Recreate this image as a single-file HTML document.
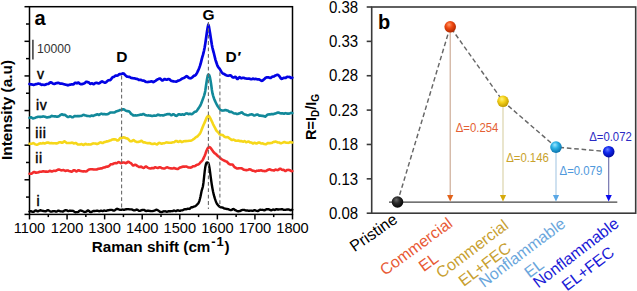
<!DOCTYPE html>
<html><head><meta charset="utf-8"><style>
html,body{margin:0;padding:0;background:#fff;}
body{width:637px;height:291px;overflow:hidden;}
svg{display:block;font-family:"Liberation Sans",sans-serif;}
</style></head><body>
<svg width="637" height="291" viewBox="0 0 637 291">
<defs><radialGradient id="gpr" cx="0.42" cy="0.38" r="0.62" fx="0.4" fy="0.3"><stop offset="0" stop-color="#6a6a6a"/><stop offset="0.45" stop-color="#2a2a2a"/><stop offset="1" stop-color="#050505"/></radialGradient><radialGradient id="gce" cx="0.42" cy="0.38" r="0.62" fx="0.4" fy="0.3"><stop offset="0" stop-color="#ff9a6a"/><stop offset="0.45" stop-color="#f04a12"/><stop offset="1" stop-color="#b02800"/></radialGradient><radialGradient id="gcf" cx="0.42" cy="0.38" r="0.62" fx="0.4" fy="0.3"><stop offset="0" stop-color="#fff27a"/><stop offset="0.45" stop-color="#f5d21c"/><stop offset="1" stop-color="#c09a00"/></radialGradient><radialGradient id="gne" cx="0.42" cy="0.38" r="0.62" fx="0.4" fy="0.3"><stop offset="0" stop-color="#a0e6ff"/><stop offset="0.45" stop-color="#2cb2e6"/><stop offset="1" stop-color="#0a74ae"/></radialGradient><radialGradient id="gnf" cx="0.42" cy="0.38" r="0.62" fx="0.4" fy="0.3"><stop offset="0" stop-color="#6a80ff"/><stop offset="0.45" stop-color="#1028ee"/><stop offset="1" stop-color="#0008a0"/></radialGradient></defs>
<!-- Panel A -->
<g stroke="#000" stroke-width="1.5" fill="none">
<rect x="29.5" y="6.7" width="263.0" height="207.70000000000002"/>
<line x1="24.5" y1="6.70" x2="29.5" y2="6.70"/><line x1="26.0" y1="24.01" x2="29.5" y2="24.01"/><line x1="24.5" y1="41.32" x2="29.5" y2="41.32"/><line x1="26.0" y1="58.63" x2="29.5" y2="58.63"/><line x1="24.5" y1="75.93" x2="29.5" y2="75.93"/><line x1="26.0" y1="93.24" x2="29.5" y2="93.24"/><line x1="24.5" y1="110.55" x2="29.5" y2="110.55"/><line x1="26.0" y1="127.86" x2="29.5" y2="127.86"/><line x1="24.5" y1="145.17" x2="29.5" y2="145.17"/><line x1="26.0" y1="162.47" x2="29.5" y2="162.47"/><line x1="24.5" y1="179.78" x2="29.5" y2="179.78"/><line x1="26.0" y1="197.09" x2="29.5" y2="197.09"/><line x1="24.5" y1="214.40" x2="29.5" y2="214.40"/><line x1="29.50" y1="214.4" x2="29.50" y2="219.4"/><line x1="48.29" y1="214.4" x2="48.29" y2="217.1"/><line x1="67.07" y1="214.4" x2="67.07" y2="219.4"/><line x1="85.86" y1="214.4" x2="85.86" y2="217.1"/><line x1="104.64" y1="214.4" x2="104.64" y2="219.4"/><line x1="123.43" y1="214.4" x2="123.43" y2="217.1"/><line x1="142.21" y1="214.4" x2="142.21" y2="219.4"/><line x1="161.00" y1="214.4" x2="161.00" y2="217.1"/><line x1="179.79" y1="214.4" x2="179.79" y2="219.4"/><line x1="198.57" y1="214.4" x2="198.57" y2="217.1"/><line x1="217.36" y1="214.4" x2="217.36" y2="219.4"/><line x1="236.14" y1="214.4" x2="236.14" y2="217.1"/><line x1="254.93" y1="214.4" x2="254.93" y2="219.4"/><line x1="273.71" y1="214.4" x2="273.71" y2="217.1"/><line x1="292.50" y1="214.4" x2="292.50" y2="219.4"/>
</g>
<polyline points="29.5,83.99 30.1,84.26 30.7,84.33 31.3,84.33 31.9,84.43 32.5,84.65 33.1,84.80 33.7,84.79 34.3,84.70 34.9,84.53 35.5,84.27 36.1,84.11 36.7,84.07 37.3,83.91 37.9,83.72 38.5,83.70 39.1,83.76 39.7,83.84 40.3,84.09 40.9,84.53 41.5,84.81 42.1,84.78 42.7,84.70 43.3,84.76 43.9,84.83 44.5,84.83 45.1,84.78 45.7,84.59 46.3,84.24 46.9,83.99 47.5,83.98 48.1,83.97 48.7,83.67 49.3,83.13 49.9,82.62 50.5,82.36 51.1,82.42 51.7,82.75 52.3,83.12 52.9,83.44 53.5,83.74 54.1,83.90 54.7,83.83 55.3,83.61 55.9,83.32 56.5,83.11 57.1,83.04 57.7,82.96 58.3,82.89 58.9,83.05 59.5,83.35 60.1,83.55 60.7,83.60 61.3,83.62 61.9,83.66 62.5,83.76 63.1,83.94 63.7,84.11 64.3,84.25 64.9,84.43 65.5,84.62 66.1,84.75 66.7,84.86 67.3,85.11 67.9,85.29 68.5,85.14 69.1,84.83 69.7,84.69 70.3,84.63 70.9,84.49 71.5,84.41 72.1,84.44 72.7,84.46 73.3,84.36 73.9,84.00 74.5,83.40 75.1,82.92 75.7,82.84 76.3,83.11 76.9,83.34 77.5,83.12 78.1,82.63 78.7,82.67 79.3,83.26 79.9,83.81 80.5,84.05 81.1,84.11 81.7,84.14 82.3,84.05 82.9,83.85 83.5,83.62 84.1,83.41 84.7,83.09 85.3,82.60 85.9,82.07 86.5,81.77 87.1,81.89 87.7,82.18 88.3,82.31 88.9,82.56 89.5,83.12 90.1,83.68 90.7,83.86 91.3,83.60 91.9,83.31 92.5,83.49 93.1,84.04 93.7,84.19 94.3,83.77 94.9,83.28 95.5,83.02 96.1,82.87 96.7,82.84 97.3,82.99 97.9,83.26 98.5,83.43 99.1,83.37 99.7,83.07 100.3,82.58 100.9,81.95 101.5,81.48 102.1,81.45 102.7,81.77 103.3,82.09 103.9,82.35 104.5,82.57 105.1,82.66 105.7,82.49 106.3,82.05 106.9,81.43 107.5,80.85 108.1,80.47 108.7,80.26 109.3,80.17 109.9,80.22 110.5,80.03 111.1,79.26 111.7,78.25 112.3,77.52 112.9,77.18 113.5,77.05 114.1,76.78 114.7,76.26 115.3,75.73 115.9,75.49 116.5,75.53 117.1,75.60 117.7,75.50 118.3,75.08 118.9,74.46 119.5,74.07 120.1,74.01 120.7,74.05 121.3,73.99 121.9,73.80 122.5,73.54 123.1,73.41 123.7,73.63 124.3,74.12 124.9,74.72 125.5,75.35 126.1,75.95 126.7,76.39 127.3,76.65 127.9,76.76 128.5,76.82 129.1,76.90 129.7,77.08 130.3,77.37 130.9,77.72 131.5,77.98 132.1,78.09 132.7,78.15 133.3,78.24 133.9,78.29 134.5,78.37 135.1,78.56 135.7,78.79 136.3,78.93 136.9,78.95 137.5,79.06 138.1,79.43 138.7,79.81 139.3,79.87 139.9,79.74 140.5,79.75 141.1,80.00 141.7,80.30 142.3,80.48 142.9,80.59 143.5,80.65 144.1,80.79 144.7,81.14 145.3,81.58 145.9,81.85 146.5,81.97 147.1,82.03 147.7,82.00 148.3,81.92 148.9,81.84 149.5,81.76 150.1,81.65 150.7,81.52 151.3,81.38 151.9,81.45 152.5,81.81 153.1,82.09 153.7,81.96 154.3,81.55 154.9,81.15 155.5,80.81 156.1,80.40 156.7,79.93 157.3,79.53 157.9,79.29 158.5,79.06 159.1,78.74 159.7,78.48 160.3,78.60 160.9,79.20 161.5,79.98 162.1,80.44 162.7,80.38 163.3,79.95 163.9,79.38 164.5,79.07 165.1,79.19 165.7,79.49 166.3,79.66 166.9,79.69 167.5,79.50 168.1,79.16 168.7,79.01 169.3,79.20 169.9,79.63 170.5,80.17 171.1,80.69 171.7,80.98 172.3,81.06 172.9,81.19 173.5,81.40 174.1,81.52 174.7,81.50 175.3,81.49 175.9,81.60 176.5,81.59 177.1,81.26 177.7,80.85 178.3,80.66 178.9,80.52 179.5,80.24 180.1,79.91 180.7,79.55 181.3,79.16 181.9,78.77 182.5,78.44 183.1,78.21 183.7,78.03 184.3,77.72 184.9,77.29 185.5,76.86 186.1,76.40 186.7,76.10 187.3,76.40 187.9,77.08 188.5,77.67 189.1,78.05 189.7,78.26 190.3,78.29 190.9,78.16 191.5,77.89 192.1,77.46 192.7,76.91 193.3,76.33 193.9,75.85 194.5,75.61 195.1,75.42 195.7,74.95 196.3,74.17 196.9,73.14 197.5,71.95 198.1,70.69 198.7,69.33 199.3,67.81 199.9,66.16 200.5,64.22 201.1,61.86 201.7,59.40 202.3,57.17 202.9,55.14 203.5,52.93 204.1,50.29 204.7,47.23 205.3,43.64 205.9,39.49 206.5,35.24 207.1,31.06 207.7,27.55 208.3,24.73 208.9,26.45 209.5,29.94 210.1,33.57 210.7,37.51 211.3,41.33 211.9,45.05 212.5,48.00 213.1,50.35 213.7,52.55 214.3,54.98 214.9,57.48 215.5,59.81 216.1,61.79 216.7,63.50 217.3,65.18 217.9,66.61 218.5,67.52 219.1,68.13 219.7,68.91 220.3,69.92 220.9,70.97 221.5,71.96 222.1,72.81 222.7,73.37 223.3,73.66 223.9,73.86 224.5,74.17 225.1,74.62 225.7,75.04 226.3,75.31 226.9,75.52 227.5,75.72 228.1,75.78 228.7,75.67 229.3,75.52 229.9,75.41 230.5,75.41 231.1,75.74 231.7,76.41 232.3,77.04 232.9,77.41 233.5,77.55 234.1,77.40 234.7,76.99 235.3,76.78 235.9,77.20 236.5,78.08 237.1,78.83 237.7,78.98 238.3,78.40 238.9,77.56 239.5,77.21 240.1,77.54 240.7,78.05 241.3,78.28 241.9,78.15 242.5,77.87 243.1,77.73 243.7,77.84 244.3,78.10 244.9,78.33 245.5,78.45 246.1,78.49 246.7,78.55 247.3,78.66 247.9,78.72 248.5,78.63 249.1,78.54 249.7,78.72 250.3,79.05 250.9,79.24 251.5,79.18 252.1,78.94 252.7,78.68 253.3,78.65 253.9,78.88 254.5,79.07 255.1,79.03 255.7,78.90 256.3,78.99 256.9,79.26 257.5,79.34 258.1,79.25 258.7,79.31 259.3,79.57 259.9,79.86 260.5,80.18 261.1,80.59 261.7,80.89 262.3,80.79 262.9,80.33 263.5,79.76 264.1,79.20 264.7,78.66 265.3,78.11 265.9,77.64 266.5,77.38 267.1,77.37 267.7,77.39 268.3,77.38 268.9,77.51 269.5,77.80 270.1,77.99 270.7,77.85 271.3,77.41 271.9,76.92 272.5,76.63 273.1,76.59 273.7,76.52 274.3,76.20 274.9,75.75 275.5,75.44 276.1,75.25 276.7,75.05 277.3,74.86 277.9,74.83 278.5,75.25 279.1,75.85 279.7,76.64 280.3,77.60 280.9,78.40 281.5,78.81 282.1,78.77 282.7,78.40 283.3,78.02 283.9,77.82 284.5,77.86 285.1,77.97 285.7,77.83 286.3,77.39 286.9,76.96 287.5,76.83 288.1,76.94 288.7,76.99 289.3,76.95 289.9,77.13 290.5,77.62 291.1,78.02 291.7,77.98 292.3,77.60" fill="none" stroke="#0303e4" stroke-width="2.7" stroke-linejoin="round" stroke-linecap="round"/><polyline points="29.5,117.87 30.1,117.56 30.7,117.29 31.3,117.36 31.9,117.77 32.5,118.22 33.1,118.41 33.7,118.29 34.3,118.08 34.9,117.90 35.5,117.68 36.1,117.38 36.7,117.13 37.3,116.96 37.9,116.85 38.5,116.79 39.1,116.82 39.7,116.87 40.3,116.88 40.9,116.86 41.5,116.81 42.1,116.66 42.7,116.46 43.3,116.40 43.9,116.53 44.5,116.71 45.1,116.85 45.7,117.03 46.3,117.30 46.9,117.47 47.5,117.38 48.1,117.18 48.7,117.10 49.3,117.08 49.9,116.98 50.5,116.68 51.1,116.21 51.7,115.91 52.3,115.95 52.9,116.15 53.5,116.28 54.1,116.33 54.7,116.33 55.3,116.36 55.9,116.51 56.5,116.65 57.1,116.65 57.7,116.59 58.3,116.50 58.9,116.27 59.5,115.84 60.1,115.35 60.7,114.87 61.3,114.44 61.9,114.29 62.5,114.52 63.1,114.85 63.7,114.90 64.3,114.76 64.9,114.81 65.5,115.21 66.1,115.76 66.7,116.31 67.3,116.77 67.9,117.02 68.5,116.97 69.1,116.67 69.7,116.35 70.3,116.31 70.9,116.64 71.5,117.03 72.1,117.24 72.7,117.24 73.3,117.01 73.9,116.56 74.5,116.12 75.1,116.03 75.7,116.16 76.3,116.21 76.9,116.16 77.5,116.14 78.1,116.12 78.7,116.10 79.3,116.10 79.9,116.03 80.5,115.95 81.1,115.91 81.7,115.76 82.3,115.42 82.9,115.05 83.5,114.89 84.1,115.02 84.7,115.26 85.3,115.40 85.9,115.51 86.5,115.69 87.1,115.90 87.7,116.01 88.3,115.99 88.9,116.04 89.5,116.22 90.1,116.25 90.7,115.97 91.3,115.61 91.9,115.53 92.5,115.72 93.1,115.88 93.7,115.73 94.3,115.36 94.9,115.11 95.5,115.01 96.1,114.78 96.7,114.40 97.3,114.23 97.9,114.46 98.5,114.85 99.1,114.95 99.7,114.61 100.3,114.10 100.9,113.74 101.5,113.67 102.1,113.93 102.7,114.23 103.3,114.18 103.9,113.94 104.5,113.93 105.1,114.17 105.7,114.36 106.3,114.33 106.9,114.21 107.5,114.12 108.1,113.98 108.7,113.69 109.3,113.24 109.9,112.79 110.5,112.55 111.1,112.51 111.7,112.48 112.3,112.45 112.9,112.52 113.5,112.56 114.1,112.44 114.7,112.23 115.3,111.95 115.9,111.58 116.5,111.27 117.1,111.15 117.7,111.06 118.3,110.84 118.9,110.54 119.5,110.25 120.1,110.03 120.7,109.94 121.3,109.93 121.9,109.81 122.5,109.50 123.1,109.21 123.7,109.25 124.3,109.63 124.9,110.06 125.5,110.43 126.1,110.76 126.7,111.00 127.3,111.10 127.9,111.10 128.5,111.17 129.1,111.44 129.7,111.98 130.3,112.82 130.9,113.64 131.5,114.12 132.1,114.43 132.7,114.89 133.3,115.37 133.9,115.53 134.5,115.42 135.1,115.32 135.7,115.37 136.3,115.46 136.9,115.44 137.5,115.33 138.1,115.24 138.7,115.10 139.3,114.89 139.9,114.70 140.5,114.63 141.1,114.65 141.7,114.64 142.3,114.45 142.9,114.13 143.5,114.04 144.1,114.33 144.7,114.74 145.3,115.00 145.9,115.17 146.5,115.35 147.1,115.51 147.7,115.51 148.3,115.42 148.9,115.41 149.5,115.51 150.1,115.59 150.7,115.65 151.3,115.79 151.9,116.00 152.5,116.05 153.1,115.84 153.7,115.57 154.3,115.49 154.9,115.61 155.5,115.77 156.1,115.73 156.7,115.38 157.3,114.94 157.9,114.67 158.5,114.70 159.1,114.98 159.7,115.26 160.3,115.35 160.9,115.31 161.5,115.26 162.1,115.25 162.7,115.35 163.3,115.44 163.9,115.31 164.5,115.04 165.1,114.83 165.7,114.66 166.3,114.42 166.9,114.18 167.5,114.16 168.1,114.22 168.7,114.14 169.3,114.07 169.9,114.27 170.5,114.72 171.1,115.14 171.7,115.17 172.3,114.75 172.9,114.30 173.5,114.23 174.1,114.57 174.7,115.10 175.3,115.54 175.9,115.79 176.5,115.84 177.1,115.59 177.7,115.05 178.3,114.49 178.9,114.19 179.5,114.26 180.1,114.55 180.7,114.81 181.3,114.77 181.9,114.46 182.5,114.28 183.1,114.51 183.7,114.80 184.3,114.69 184.9,114.22 185.5,113.80 186.1,113.54 186.7,113.39 187.3,113.47 187.9,113.85 188.5,114.13 189.1,113.98 189.7,113.69 190.3,113.70 190.9,113.96 191.5,114.16 192.1,114.06 192.7,113.67 193.3,113.11 193.9,112.53 194.5,112.06 195.1,111.83 195.7,111.66 196.3,111.28 196.9,110.63 197.5,109.82 198.1,108.93 198.7,108.00 199.3,107.12 199.9,106.27 200.5,105.16 201.1,103.79 201.7,102.24 202.3,100.63 202.9,99.03 203.5,97.36 204.1,95.62 204.7,93.66 205.3,90.63 205.9,86.46 206.5,82.46 207.1,78.65 207.7,75.70 208.3,74.59 208.9,74.71 209.5,75.81 210.1,78.11 210.7,81.52 211.3,85.52 211.9,90.03 212.5,93.41 213.1,95.61 213.7,97.56 214.3,99.22 214.9,100.62 215.5,101.94 216.1,103.20 216.7,104.42 217.3,105.54 217.9,106.50 218.5,107.37 219.1,108.26 219.7,109.07 220.3,109.67 220.9,110.15 221.5,110.41 222.1,110.51 222.7,110.58 223.3,110.55 223.9,110.39 224.5,110.21 225.1,110.06 225.7,110.03 226.3,110.20 226.9,110.42 227.5,110.51 228.1,110.69 228.7,111.20 229.3,111.78 229.9,111.98 230.5,111.86 231.1,111.84 231.7,112.06 232.3,112.39 232.9,112.75 233.5,113.16 234.1,113.47 234.7,113.51 235.3,113.42 235.9,113.59 236.5,113.89 237.1,114.03 237.7,113.99 238.3,113.83 238.9,113.54 239.5,113.27 240.1,113.13 240.7,112.85 241.3,112.44 241.9,112.38 242.5,112.80 243.1,113.40 243.7,113.88 244.3,114.19 244.9,114.41 245.5,114.63 246.1,114.85 246.7,115.03 247.3,115.17 247.9,115.24 248.5,115.19 249.1,114.95 249.7,114.66 250.3,114.50 250.9,114.45 251.5,114.35 252.1,114.33 252.7,114.60 253.3,115.05 253.9,115.41 254.5,115.44 255.1,115.19 255.7,114.89 256.3,114.72 256.9,114.61 257.5,114.55 258.1,114.73 258.7,115.20 259.3,115.62 259.9,115.67 260.5,115.55 261.1,115.64 261.7,115.83 262.3,115.85 262.9,115.79 263.5,115.91 264.1,116.24 264.7,116.57 265.3,116.58 265.9,116.16 266.5,115.51 267.1,114.94 267.7,114.62 268.3,114.47 268.9,114.41 269.5,114.42 270.1,114.41 270.7,114.28 271.3,114.09 271.9,114.05 272.5,114.16 273.1,114.17 273.7,113.98 274.3,113.76 274.9,113.63 275.5,113.52 276.1,113.33 276.7,113.06 277.3,112.80 277.9,112.61 278.5,112.55 279.1,112.72 279.7,113.00 280.3,113.24 280.9,113.36 281.5,113.36 282.1,113.31 282.7,113.34 283.3,113.47 283.9,113.62 284.5,113.58 285.1,113.30 285.7,113.16 286.3,113.40 286.9,113.67 287.5,113.65 288.1,113.56 288.7,113.60 289.3,113.60 289.9,113.38 290.5,113.05 291.1,112.88 291.7,112.93 292.3,113.08" fill="none" stroke="#12899a" stroke-width="2.6" stroke-linejoin="round" stroke-linecap="round"/><polyline points="29.5,143.74 30.1,143.68 30.7,143.72 31.3,143.80 31.9,143.70 32.5,143.39 33.1,143.15 33.7,143.26 34.3,143.66 34.9,144.05 35.5,144.35 36.1,144.60 36.7,144.76 37.3,144.69 37.9,144.41 38.5,144.04 39.1,143.69 39.7,143.43 40.3,143.34 40.9,143.46 41.5,143.57 42.1,143.43 42.7,143.14 43.3,143.04 43.9,143.25 44.5,143.51 45.1,143.47 45.7,143.14 46.3,142.81 46.9,142.61 47.5,142.48 48.1,142.51 48.7,142.75 49.3,143.06 49.9,143.23 50.5,143.20 51.1,143.08 51.7,143.07 52.3,143.23 52.9,143.35 53.5,143.30 54.1,143.20 54.7,143.20 55.3,143.31 55.9,143.39 56.5,143.41 57.1,143.35 57.7,143.14 58.3,142.77 58.9,142.44 59.5,142.32 60.1,142.31 60.7,142.34 61.3,142.51 61.9,142.78 62.5,142.77 63.1,142.26 63.7,141.64 64.3,141.38 64.9,141.53 65.5,141.97 66.1,142.53 66.7,142.93 67.3,142.99 67.9,142.95 68.5,143.02 69.1,143.07 69.7,143.02 70.3,142.96 70.9,142.90 71.5,142.73 72.1,142.60 72.7,142.82 73.3,143.30 73.9,143.53 74.5,143.36 75.1,143.12 75.7,143.08 76.3,143.31 76.9,143.79 77.5,144.28 78.1,144.54 78.7,144.57 79.3,144.54 79.9,144.51 80.5,144.37 81.1,144.16 81.7,144.12 82.3,144.40 82.9,144.80 83.5,144.95 84.1,144.67 84.7,144.20 85.3,143.91 85.9,143.98 86.5,144.26 87.1,144.48 87.7,144.43 88.3,144.31 88.9,144.33 89.5,144.44 90.1,144.47 90.7,144.39 91.3,144.25 91.9,144.00 92.5,143.64 93.1,143.39 93.7,143.43 94.3,143.54 94.9,143.47 95.5,143.45 96.1,143.71 96.7,144.01 97.3,144.03 97.9,143.80 98.5,143.47 99.1,143.06 99.7,142.68 100.3,142.42 100.9,142.35 101.5,142.60 102.1,143.00 102.7,143.06 103.3,142.70 103.9,142.29 104.5,142.09 105.1,142.03 105.7,141.86 106.3,141.56 106.9,141.35 107.5,141.34 108.1,141.29 108.7,141.05 109.3,140.74 109.9,140.55 110.5,140.41 111.1,140.18 111.7,139.82 112.3,139.54 112.9,139.41 113.5,139.36 114.1,139.36 114.7,139.40 115.3,139.42 115.9,139.55 116.5,139.98 117.1,140.42 117.7,140.52 118.3,140.31 118.9,139.79 119.5,138.89 120.1,138.06 120.7,137.76 121.3,137.86 121.9,137.97 122.5,137.82 123.1,137.51 123.7,137.32 124.3,137.42 124.9,137.70 125.5,138.02 126.1,138.25 126.7,138.38 127.3,138.51 127.9,138.80 128.5,139.36 129.1,140.08 129.7,140.75 130.3,141.17 130.9,141.27 131.5,141.19 132.1,140.94 132.7,140.50 133.3,140.12 133.9,140.24 134.5,140.81 135.1,141.33 135.7,141.57 136.3,141.71 136.9,141.94 137.5,142.07 138.1,141.92 138.7,141.71 139.3,141.69 139.9,141.59 140.5,141.16 141.1,140.73 141.7,140.82 142.3,141.44 142.9,142.11 143.5,142.40 144.1,142.38 144.7,142.40 145.3,142.59 145.9,142.80 146.5,142.95 147.1,143.10 147.7,143.27 148.3,143.27 148.9,143.11 149.5,143.07 150.1,143.25 150.7,143.52 151.3,143.73 151.9,143.87 152.5,143.94 153.1,143.90 153.7,143.74 154.3,143.61 154.9,143.64 155.5,143.84 156.1,144.15 156.7,144.43 157.3,144.37 157.9,143.83 158.5,143.16 159.1,142.87 159.7,142.95 160.3,143.15 160.9,143.45 161.5,143.69 162.1,143.63 162.7,143.41 163.3,143.32 163.9,143.30 164.5,143.17 165.1,142.92 165.7,142.64 166.3,142.43 166.9,142.40 167.5,142.52 168.1,142.67 168.7,142.71 169.3,142.71 169.9,142.76 170.5,142.80 171.1,142.76 171.7,142.62 172.3,142.43 172.9,142.30 173.5,142.26 174.1,142.17 174.7,141.83 175.3,141.34 175.9,140.99 176.5,140.99 177.1,141.28 177.7,141.67 178.3,141.91 178.9,141.79 179.5,141.32 180.1,140.96 180.7,141.22 181.3,141.84 181.9,142.09 182.5,141.85 183.1,141.54 183.7,141.35 184.3,141.21 184.9,141.16 185.5,141.17 186.1,141.09 186.7,141.00 187.3,141.05 187.9,141.06 188.5,140.87 189.1,140.68 189.7,140.69 190.3,140.74 190.9,140.63 191.5,140.42 192.1,140.13 192.7,139.73 193.3,139.30 193.9,138.92 194.5,138.49 195.1,137.92 195.7,137.36 196.3,136.99 196.9,136.72 197.5,136.32 198.1,135.71 198.7,135.02 199.3,134.33 199.9,133.57 200.5,132.54 201.1,131.14 201.7,129.57 202.3,127.95 202.9,126.40 203.5,124.98 204.1,123.72 204.7,122.40 205.3,120.93 205.9,119.40 206.5,118.01 207.1,116.98 207.7,116.18 208.3,115.69 208.9,115.97 209.5,116.81 210.1,117.83 210.7,119.07 211.3,120.28 211.9,121.50 212.5,122.81 213.1,124.18 213.7,125.46 214.3,126.54 214.9,127.64 215.5,128.86 216.1,130.05 216.7,130.96 217.3,131.55 217.9,132.07 218.5,132.73 219.1,133.59 219.7,134.32 220.3,134.66 220.9,134.75 221.5,134.85 222.1,134.94 222.7,135.11 223.3,135.58 223.9,136.25 224.5,136.78 225.1,137.04 225.7,137.14 226.3,137.19 226.9,137.16 227.5,137.13 228.1,137.30 228.7,137.74 229.3,138.29 229.9,138.72 230.5,139.09 231.1,139.60 231.7,140.00 232.3,139.94 232.9,139.68 233.5,139.62 234.1,139.88 234.7,140.28 235.3,140.57 235.9,140.73 236.5,140.81 237.1,140.77 237.7,140.65 238.3,140.59 238.9,140.75 239.5,141.02 240.1,141.16 240.7,141.12 241.3,141.10 241.9,141.29 242.5,141.58 243.1,141.67 243.7,141.44 244.3,141.16 244.9,141.23 245.5,141.70 246.1,142.15 246.7,142.17 247.3,141.85 247.9,141.56 248.5,141.53 249.1,141.80 249.7,142.22 250.3,142.49 250.9,142.52 251.5,142.59 252.1,142.96 252.7,143.38 253.3,143.38 253.9,142.99 254.5,142.76 255.1,142.97 255.7,143.34 256.3,143.53 256.9,143.39 257.5,143.03 258.1,142.71 258.7,142.52 259.3,142.49 259.9,142.70 260.5,143.12 261.1,143.48 261.7,143.47 262.3,143.32 262.9,143.42 263.5,143.69 264.1,143.90 264.7,144.07 265.3,144.24 265.9,144.27 266.5,144.03 267.1,143.57 267.7,143.13 268.3,143.00 268.9,143.12 269.5,143.23 270.1,143.15 270.7,143.03 271.3,143.00 271.9,142.90 272.5,142.55 273.1,142.12 273.7,141.91 274.3,141.85 274.9,141.74 275.5,141.63 276.1,141.71 276.7,141.97 277.3,142.29 277.9,142.53 278.5,142.55 279.1,142.53 279.7,142.77 280.3,143.16 280.9,143.31 281.5,143.15 282.1,142.90 282.7,142.67 283.3,142.37 283.9,142.08 284.5,142.04 285.1,142.30 285.7,142.61 286.3,142.76 286.9,142.78 287.5,142.81 288.1,142.85 288.7,142.82 289.3,142.59 289.9,142.27 290.5,142.11 291.1,142.22 291.7,142.42 292.3,142.46" fill="none" stroke="#f6d71a" stroke-width="2.6" stroke-linejoin="round" stroke-linecap="round"/><polyline points="29.5,173.69 30.1,173.68 30.7,173.76 31.3,173.77 31.9,173.43 32.5,172.91 33.1,172.44 33.7,172.07 34.3,171.95 34.9,172.23 35.5,172.63 36.1,172.73 36.7,172.62 37.3,172.54 37.9,172.48 38.5,172.31 39.1,172.01 39.7,171.77 40.3,171.74 40.9,171.82 41.5,171.81 42.1,171.60 42.7,171.34 43.3,171.24 43.9,171.37 44.5,171.57 45.1,171.65 45.7,171.59 46.3,171.56 46.9,171.65 47.5,171.74 48.1,171.68 48.7,171.39 49.3,171.02 49.9,170.85 50.5,170.98 51.1,171.30 51.7,171.55 52.3,171.49 52.9,171.13 53.5,170.79 54.1,170.73 54.7,170.85 55.3,170.87 55.9,170.73 56.5,170.51 57.1,170.15 57.7,169.78 58.3,169.62 58.9,169.62 59.5,169.66 60.1,169.86 60.7,170.19 61.3,170.38 61.9,170.32 62.5,170.18 63.1,170.08 63.7,170.11 64.3,170.36 64.9,170.71 65.5,170.87 66.1,170.75 66.7,170.54 67.3,170.41 67.9,170.51 68.5,170.79 69.1,171.04 69.7,171.16 70.3,171.30 70.9,171.54 71.5,171.72 72.1,171.56 72.7,171.02 73.3,170.48 73.9,170.23 74.5,170.26 75.1,170.57 75.7,171.10 76.3,171.45 76.9,171.30 77.5,170.82 78.1,170.39 78.7,170.31 79.3,170.51 79.9,170.80 80.5,170.98 81.1,171.07 81.7,171.17 82.3,171.32 82.9,171.42 83.5,171.37 84.1,171.26 84.7,171.30 85.3,171.47 85.9,171.52 86.5,171.35 87.1,170.94 87.7,170.38 88.3,169.87 88.9,169.57 89.5,169.43 90.1,169.31 90.7,169.27 91.3,169.30 91.9,169.29 92.5,169.31 93.1,169.41 93.7,169.48 94.3,169.45 94.9,169.44 95.5,169.50 96.1,169.57 96.7,169.53 97.3,169.33 97.9,168.99 98.5,168.74 99.1,168.68 99.7,168.63 100.3,168.47 100.9,168.38 101.5,168.39 102.1,168.27 102.7,167.91 103.3,167.61 103.9,167.55 104.5,167.54 105.1,167.33 105.7,166.96 106.3,166.67 106.9,166.60 107.5,166.60 108.1,166.49 108.7,166.18 109.3,165.69 109.9,165.13 110.5,164.59 111.1,164.23 111.7,164.18 112.3,164.25 112.9,164.04 113.5,163.66 114.1,163.37 114.7,163.19 115.3,163.11 115.9,163.16 116.5,163.18 117.1,162.96 117.7,162.53 118.3,162.19 118.9,162.10 119.5,162.37 120.1,162.87 120.7,163.14 121.3,163.00 121.9,162.76 122.5,162.61 123.1,162.55 123.7,162.54 124.3,162.62 124.9,162.83 125.5,163.11 126.1,163.20 126.7,162.87 127.3,162.24 127.9,161.72 128.5,161.76 129.1,162.18 129.7,162.59 130.3,162.87 130.9,163.17 131.5,163.73 132.1,164.54 132.7,165.26 133.3,165.51 133.9,165.31 134.5,164.98 135.1,164.76 135.7,164.78 136.3,165.14 136.9,165.68 137.5,166.11 138.1,166.40 138.7,166.73 139.3,167.02 139.9,166.99 140.5,166.71 141.1,166.60 141.7,166.90 142.3,167.39 142.9,167.76 143.5,167.89 144.1,167.76 144.7,167.25 145.3,166.65 145.9,166.46 146.5,166.76 147.1,167.19 147.7,167.55 148.3,167.88 148.9,168.16 149.5,168.35 150.1,168.51 150.7,168.50 151.3,168.24 151.9,168.01 152.5,168.08 153.1,168.28 153.7,168.17 154.3,167.69 154.9,167.31 155.5,167.32 156.1,167.51 156.7,167.68 157.3,167.84 157.9,167.92 158.5,167.74 159.1,167.40 159.7,167.19 160.3,167.29 160.9,167.63 161.5,167.98 162.1,168.19 162.7,168.32 163.3,168.46 163.9,168.52 164.5,168.44 165.1,168.21 165.7,167.89 166.3,167.60 166.9,167.41 167.5,167.39 168.1,167.62 168.7,167.91 169.3,168.09 169.9,168.23 170.5,168.34 171.1,168.37 171.7,168.45 172.3,168.54 172.9,168.42 173.5,168.16 174.1,168.07 174.7,168.25 175.3,168.50 175.9,168.63 176.5,168.72 177.1,168.87 177.7,168.93 178.3,168.69 178.9,168.22 179.5,167.75 180.1,167.47 180.7,167.37 181.3,167.31 181.9,167.09 182.5,166.74 183.1,166.56 183.7,166.61 184.3,166.67 184.9,166.62 185.5,166.54 186.1,166.52 186.7,166.62 187.3,166.88 187.9,167.23 188.5,167.47 189.1,167.50 189.7,167.52 190.3,167.62 190.9,167.57 191.5,167.30 192.1,166.91 192.7,166.48 193.3,166.21 193.9,166.19 194.5,166.20 195.1,165.98 195.7,165.56 196.3,165.12 196.9,164.83 197.5,164.70 198.1,164.55 198.7,164.20 199.3,163.66 199.9,163.02 200.5,162.31 201.1,161.67 201.7,161.19 202.3,160.60 202.9,159.67 203.5,158.43 204.1,157.06 204.7,155.73 205.3,154.17 205.9,152.40 206.5,150.70 207.1,149.44 207.7,148.40 208.3,147.64 208.9,147.22 209.5,147.06 210.1,147.38 210.7,148.07 211.3,148.85 211.9,149.67 212.5,150.52 213.1,151.39 213.7,152.23 214.3,152.90 214.9,153.34 215.5,153.69 216.1,154.22 216.7,154.90 217.3,155.56 217.9,156.09 218.5,156.52 219.1,156.92 219.7,157.40 220.3,158.02 220.9,158.65 221.5,159.12 222.1,159.47 222.7,159.78 223.3,160.08 223.9,160.44 224.5,160.80 225.1,161.08 225.7,161.28 226.3,161.44 226.9,161.72 227.5,162.33 228.1,163.12 228.7,163.68 229.3,163.99 229.9,164.28 230.5,164.53 231.1,164.58 231.7,164.45 232.3,164.46 232.9,164.91 233.5,165.77 234.1,166.65 234.7,167.21 235.3,167.50 235.9,167.85 236.5,168.31 237.1,168.54 237.7,168.45 238.3,168.33 238.9,168.29 239.5,168.26 240.1,168.24 240.7,168.24 241.3,168.25 241.9,168.40 242.5,168.81 243.1,169.34 243.7,169.69 244.3,169.82 244.9,169.90 245.5,170.04 246.1,170.13 246.7,170.10 247.3,170.05 247.9,169.93 248.5,169.63 249.1,169.31 249.7,169.24 250.3,169.42 250.9,169.72 251.5,170.10 252.1,170.48 252.7,170.67 253.3,170.70 253.9,170.80 254.5,171.11 255.1,171.39 255.7,171.34 256.3,171.06 256.9,170.84 257.5,170.74 258.1,170.67 258.7,170.65 259.3,170.65 259.9,170.54 260.5,170.39 261.1,170.36 261.7,170.52 262.3,170.76 262.9,170.92 263.5,170.97 264.1,171.03 264.7,171.09 265.3,171.09 265.9,170.98 266.5,170.72 267.1,170.35 267.7,169.97 268.3,169.68 268.9,169.49 269.5,169.40 270.1,169.48 270.7,169.77 271.3,170.08 271.9,170.20 272.5,170.21 273.1,170.35 273.7,170.53 274.3,170.43 274.9,169.99 275.5,169.65 276.1,169.68 276.7,169.91 277.3,170.08 277.9,170.07 278.5,169.82 279.1,169.28 279.7,168.76 280.3,168.69 280.9,169.01 281.5,169.45 282.1,169.82 282.7,169.92 283.3,169.85 283.9,170.02 284.5,170.53 285.1,170.94 285.7,170.90 286.3,170.50 286.9,170.10 287.5,169.93 288.1,169.92 288.7,169.97 289.3,170.06 289.9,170.25 290.5,170.59 291.1,170.97 291.7,171.13 292.3,170.99" fill="none" stroke="#f32d2d" stroke-width="2.6" stroke-linejoin="round" stroke-linecap="round"/><polyline points="29.5,211.51 30.1,211.28 30.7,211.19 31.3,211.30 31.9,211.53 32.5,211.75 33.1,211.86 33.7,211.76 34.3,211.38 34.9,210.81 35.5,210.39 36.1,210.43 36.7,210.85 37.3,211.27 37.9,211.35 38.5,211.12 39.1,210.79 39.7,210.49 40.3,210.30 40.9,210.31 41.5,210.52 42.1,210.75 42.7,210.93 43.3,211.03 43.9,211.06 44.5,211.16 45.1,211.36 45.7,211.39 46.3,211.06 46.9,210.54 47.5,210.16 48.1,210.15 48.7,210.45 49.3,210.84 49.9,211.21 50.5,211.52 51.1,211.66 51.7,211.60 52.3,211.41 52.9,211.24 53.5,211.16 54.1,211.09 54.7,211.11 55.3,211.34 55.9,211.59 56.5,211.59 57.1,211.27 57.7,210.87 58.3,210.68 58.9,210.76 59.5,210.99 60.1,211.26 60.7,211.42 61.3,211.41 61.9,211.40 62.5,211.50 63.1,211.46 63.7,211.10 64.3,210.65 64.9,210.39 65.5,210.31 66.1,210.30 66.7,210.42 67.3,210.69 67.9,210.99 68.5,211.08 69.1,210.91 69.7,210.72 70.3,210.66 70.9,210.71 71.5,210.80 72.1,210.83 72.7,210.79 73.3,210.95 73.9,211.44 74.5,211.95 75.1,212.20 75.7,212.20 76.3,212.13 76.9,212.12 77.5,212.15 78.1,211.96 78.7,211.49 79.3,210.95 79.9,210.59 80.5,210.51 81.1,210.62 81.7,210.77 82.3,210.98 82.9,211.25 83.5,211.53 84.1,211.80 84.7,211.93 85.3,211.90 85.9,211.77 86.5,211.47 87.1,210.96 87.7,210.49 88.3,210.45 88.9,210.89 89.5,211.48 90.1,211.94 90.7,212.17 91.3,212.08 91.9,211.70 92.5,211.24 93.1,210.99 93.7,210.99 94.3,211.05 94.9,211.01 95.5,210.92 96.1,210.84 96.7,210.73 97.3,210.64 97.9,210.75 98.5,211.03 99.1,211.24 99.7,211.18 100.3,210.93 100.9,210.72 101.5,210.78 102.1,210.99 102.7,211.03 103.3,210.81 103.9,210.55 104.5,210.54 105.1,210.73 105.7,210.90 106.3,210.91 106.9,210.68 107.5,210.33 108.1,210.15 108.7,210.19 109.3,210.17 109.9,210.01 110.5,209.87 111.1,209.83 111.7,209.94 112.3,210.15 112.9,210.40 113.5,210.57 114.1,210.56 114.7,210.32 115.3,209.90 115.9,209.41 116.5,208.97 117.1,208.79 117.7,208.97 118.3,209.27 118.9,209.45 119.5,209.60 120.1,209.82 120.7,209.92 121.3,209.77 121.9,209.58 122.5,209.54 123.1,209.71 123.7,209.87 124.3,209.79 124.9,209.55 125.5,209.34 126.1,209.23 126.7,209.21 127.3,209.18 127.9,209.10 128.5,209.11 129.1,209.27 129.7,209.40 130.3,209.39 130.9,209.36 131.5,209.41 132.1,209.54 132.7,209.79 133.3,210.09 133.9,210.30 134.5,210.37 135.1,210.26 135.7,209.95 136.3,209.61 136.9,209.55 137.5,209.81 138.1,210.19 138.7,210.57 139.3,210.87 139.9,210.91 140.5,210.66 141.1,210.35 141.7,210.16 142.3,209.99 142.9,209.85 143.5,209.84 144.1,209.95 144.7,210.23 145.3,210.71 145.9,211.06 146.5,211.00 147.1,210.76 147.7,210.68 148.3,210.72 148.9,210.76 149.5,210.82 150.1,210.97 150.7,211.11 151.3,211.14 151.9,211.10 152.5,211.09 153.1,211.00 153.7,210.77 154.3,210.56 154.9,210.40 155.5,210.11 156.1,209.81 156.7,209.77 157.3,209.98 157.9,210.28 158.5,210.65 159.1,211.13 159.7,211.60 160.3,211.88 160.9,212.02 161.5,212.14 162.1,212.06 162.7,211.69 163.3,211.36 163.9,211.31 164.5,211.33 165.1,211.30 165.7,211.40 166.3,211.64 166.9,211.79 167.5,211.69 168.1,211.43 168.7,211.21 169.3,211.19 169.9,211.29 170.5,211.25 171.1,211.11 171.7,211.10 172.3,211.17 172.9,211.03 173.5,210.67 174.1,210.51 174.7,210.74 175.3,211.07 175.9,211.13 176.5,210.85 177.1,210.48 177.7,210.31 178.3,210.40 178.9,210.66 179.5,210.85 180.1,210.77 180.7,210.53 181.3,210.41 181.9,210.40 182.5,210.31 183.1,210.03 183.7,209.69 184.3,209.41 184.9,209.28 185.5,209.30 186.1,209.31 186.7,209.14 187.3,208.86 187.9,208.71 188.5,208.80 189.1,208.93 189.7,208.75 190.3,208.22 190.9,207.62 191.5,207.29 192.1,207.23 192.7,207.18 193.3,206.95 193.9,206.65 194.5,206.46 195.1,206.30 195.7,205.97 196.3,205.44 196.9,204.80 197.5,204.18 198.1,203.66 198.7,202.69 199.3,201.06 199.9,199.02 200.5,196.49 201.1,193.40 201.7,190.54 202.3,188.54 202.9,186.51 203.5,182.49 204.1,176.88 204.7,171.39 205.3,167.01 205.9,164.16 206.5,162.57 207.1,162.46 207.7,162.62 208.3,162.99 208.9,164.79 209.5,167.92 210.1,172.13 210.7,176.83 211.3,181.26 211.9,185.32 212.5,188.76 213.1,191.81 213.7,194.41 214.3,196.70 214.9,198.68 215.5,200.40 216.1,201.96 216.7,203.31 217.3,204.33 217.9,205.10 218.5,205.73 219.1,206.32 219.7,206.78 220.3,207.08 220.9,207.28 221.5,207.40 222.1,207.47 222.7,207.62 223.3,207.92 223.9,208.30 224.5,208.56 225.1,208.63 225.7,208.68 226.3,208.84 226.9,208.97 227.5,209.05 228.1,209.20 228.7,209.46 229.3,209.71 229.9,209.89 230.5,210.05 231.1,210.13 231.7,209.96 232.3,209.53 232.9,209.09 233.5,208.97 234.1,209.24 234.7,209.75 235.3,210.19 235.9,210.48 236.5,210.73 237.1,211.01 237.7,211.23 238.3,211.28 238.9,211.23 239.5,211.17 240.1,211.00 240.7,210.69 241.3,210.37 241.9,210.09 242.5,209.91 243.1,209.85 243.7,209.89 244.3,209.99 244.9,210.15 245.5,210.37 246.1,210.54 246.7,210.55 247.3,210.54 247.9,210.65 248.5,210.80 249.1,210.81 249.7,210.72 250.3,210.64 250.9,210.59 251.5,210.65 252.1,210.79 252.7,210.84 253.3,210.64 253.9,210.31 254.5,210.13 255.1,210.25 255.7,210.52 256.3,210.75 256.9,210.92 257.5,211.01 258.1,210.94 258.7,210.60 259.3,210.13 259.9,209.80 260.5,209.76 261.1,209.84 261.7,209.85 262.3,209.81 262.9,209.92 263.5,210.13 264.1,210.25 264.7,210.22 265.3,210.00 265.9,209.58 266.5,209.21 267.1,209.16 267.7,209.27 268.3,209.28 268.9,209.30 269.5,209.56 270.1,209.97 270.7,210.27 271.3,210.28 271.9,210.05 272.5,209.73 273.1,209.52 273.7,209.59 274.3,209.87 274.9,209.98 275.5,209.70 276.1,209.25 276.7,209.08 277.3,209.31 277.9,209.57 278.5,209.55 279.1,209.39 279.7,209.36 280.3,209.37 280.9,209.29 281.5,209.18 282.1,209.24 282.7,209.47 283.3,209.71 283.9,209.81 284.5,209.87 285.1,209.87 285.7,209.74 286.3,209.58 286.9,209.51 287.5,209.50 288.1,209.49 288.7,209.52 289.3,209.70 289.9,210.00 290.5,210.19 291.1,210.17 291.7,209.97 292.3,209.69" fill="none" stroke="#000000" stroke-width="2.4" stroke-linejoin="round" stroke-linecap="round"/>
<g stroke="#6a6a6a" stroke-width="1.1" stroke-dasharray="3.8,2.6">
<line x1="121.6" y1="75.6" x2="121.6" y2="209"/>
<line x1="208.4" y1="21.9" x2="208.4" y2="209"/>
<line x1="219.9" y1="72.2" x2="219.9" y2="207"/>
</g>
<g font-size="14.6" fill="#000"><text x="29.5" y="232.7" text-anchor="middle">1100</text><text x="67.1" y="232.7" text-anchor="middle">1200</text><text x="104.6" y="232.7" text-anchor="middle">1300</text><text x="142.2" y="232.7" text-anchor="middle">1400</text><text x="179.8" y="232.7" text-anchor="middle">1500</text><text x="217.4" y="232.7" text-anchor="middle">1600</text><text x="254.9" y="232.7" text-anchor="middle">1700</text><text x="292.5" y="232.7" text-anchor="middle">1800</text></g>
<text x="91.8" y="251.8" font-size="15.25" font-weight="bold">Raman shift (cm<tspan font-size="13" dy="-6.1" dx="0.8">-</tspan><tspan font-size="13" dx="0.9">1</tspan><tspan dy="6.1" dx="0.9">)</tspan></text>
<text transform="translate(12.3,110) rotate(-90)" font-size="15.4" font-weight="bold" text-anchor="middle">Intensity (a.u)</text>
<text x="34.5" y="25.3" font-size="20" font-weight="bold">a</text>
<line x1="32.9" y1="39.8" x2="32.9" y2="59.6" stroke="#444" stroke-width="1.6"/>
<text x="37" y="52.9" font-size="12.2" fill="#333">10000</text>
<g font-size="15.5" font-weight="bold">
<text x="121.9" y="62" text-anchor="middle">D</text>
<text x="208.6" y="19.8" text-anchor="middle">G</text>
<text x="225.6" y="62">D<tspan dx="0.8">′</tspan></text>
</g>
<g font-size="14" stroke="#000" stroke-width="0.45" letter-spacing="0.7">
<text x="36.9" y="78.8">v</text>
<text x="36.0" y="109.5">iv</text>
<text x="35.2" y="138.2">iii</text>
<text x="35.2" y="163.3">ii</text>
<text x="36.4" y="205.8">i</text>
</g>
<!-- Panel B -->
<g stroke="#3a3a3a" stroke-width="1.6" fill="none">
<rect x="371.7" y="7.0" width="264.00000000000006" height="206.2"/>
<line x1="366.7" y1="213.20" x2="371.7" y2="213.20"/><line x1="366.7" y1="178.83" x2="371.7" y2="178.83"/><line x1="366.7" y1="144.47" x2="371.7" y2="144.47"/><line x1="366.7" y1="110.10" x2="371.7" y2="110.10"/><line x1="366.7" y1="75.73" x2="371.7" y2="75.73"/><line x1="366.7" y1="41.37" x2="371.7" y2="41.37"/><line x1="366.7" y1="7.00" x2="371.7" y2="7.00"/>
</g>
<g font-size="16.2" fill="#000"><text x="358.2" y="218.9" text-anchor="end" textLength="29.2" lengthAdjust="spacingAndGlyphs">0.08</text><text x="358.2" y="184.5" text-anchor="end" textLength="29.2" lengthAdjust="spacingAndGlyphs">0.13</text><text x="358.2" y="150.2" text-anchor="end" textLength="29.2" lengthAdjust="spacingAndGlyphs">0.18</text><text x="358.2" y="115.8" text-anchor="end" textLength="29.2" lengthAdjust="spacingAndGlyphs">0.23</text><text x="358.2" y="81.4" text-anchor="end" textLength="29.2" lengthAdjust="spacingAndGlyphs">0.28</text><text x="358.2" y="47.1" text-anchor="end" textLength="29.2" lengthAdjust="spacingAndGlyphs">0.33</text><text x="358.2" y="12.7" text-anchor="end" textLength="29.2" lengthAdjust="spacingAndGlyphs">0.38</text></g>
<text x="378" y="28.9" font-size="20" font-weight="bold">b</text>
<text transform="translate(316.3,117) rotate(-90)" font-size="14.5" font-weight="bold" text-anchor="middle">R=I<tspan font-size="10" dy="3">D</tspan><tspan dy="-3">/I</tspan><tspan font-size="10" dy="3">G</tspan></text>
<line x1="389" y1="202.1" x2="617.3" y2="202.1" stroke="#444" stroke-width="1.3"/>
<line x1="450.2" y1="31.8" x2="450.2" y2="196" stroke="#c9a58e" stroke-width="1.1"/><path d="M447.09999999999997,195 L453.3,195 L450.2,201.6 Z" fill="#e2621a"/><line x1="503.0" y1="106.3" x2="503.0" y2="196" stroke="#d8d0a4" stroke-width="1.1"/><path d="M499.9,195 L506.1,195 L503.0,201.6 Z" fill="#d6aa0a"/><line x1="556.0" y1="152.1" x2="556.0" y2="196" stroke="#a8c8e4" stroke-width="1.1"/><path d="M552.9,195 L559.1,195 L556.0,201.6 Z" fill="#5aa8e6"/><line x1="608.7" y1="156.7" x2="608.7" y2="196" stroke="#6a6aa8" stroke-width="1.1"/><path d="M605.6,195 L611.8000000000001,195 L608.7,201.6 Z" fill="#0a0aee"/>
<polyline points="397.5,202.0 450.2,26.8 503.0,101.3 556.0,147.1 608.7,151.7" fill="none" stroke="#676767" stroke-width="1.45" stroke-dasharray="4.6,2.8"/>
<circle cx="397.5" cy="202.0" r="5.8" fill="url(#gpr)"/><circle cx="450.2" cy="26.8" r="5.8" fill="url(#gce)"/><circle cx="503.0" cy="101.3" r="5.8" fill="url(#gcf)"/><circle cx="556.0" cy="147.1" r="5.8" fill="url(#gne)"/><circle cx="608.7" cy="151.7" r="5.8" fill="url(#gnf)"/>
<g font-size="12.2">
<text x="455.8" y="132" fill="#e45f34" textLength="42.6" lengthAdjust="spacingAndGlyphs">Δ=0.254</text>
<text x="506.2" y="162" fill="#c9a22c" textLength="42.6" lengthAdjust="spacingAndGlyphs">Δ=0.146</text>
<text x="559.6" y="175" fill="#4f98dc" textLength="42.6" lengthAdjust="spacingAndGlyphs">Δ=0.079</text>
<text x="589.2" y="140.7" fill="#2a2ac4" textLength="42.6" lengthAdjust="spacingAndGlyphs">Δ=0.072</text>
</g>
<g transform="translate(398.5,222.0) rotate(-34.5)" fill="#000000" font-size="16"><text x="0" y="0" text-anchor="end">Pristine</text></g>
<g transform="translate(453.7,225.6) rotate(-36.3)" fill="#e85a35" font-size="16"><text x="0" y="0" text-anchor="end">Commercial</text><text x="-41.9" y="19.9" text-anchor="middle">EL</text></g>
<g transform="translate(509.5,227.6) rotate(-37)" fill="#c8a030" font-size="16"><text x="0" y="0" text-anchor="end">Commercial</text><text x="-41.9" y="19.9" text-anchor="middle">EL+FEC</text></g>
<g transform="translate(566.5,225.8) rotate(-37)" fill="#6aa6dc" font-size="16"><text x="0" y="0" text-anchor="end">Nonflammable</text><text x="-51.6" y="19.9" text-anchor="middle">EL</text></g>
<g transform="translate(620.0,225.7) rotate(-37.5)" fill="#1a1ad6" font-size="16"><text x="0" y="0" text-anchor="end">Nonflammable</text><text x="-51.6" y="19.9" text-anchor="middle">EL+FEC</text></g>
</svg>
</body></html>
